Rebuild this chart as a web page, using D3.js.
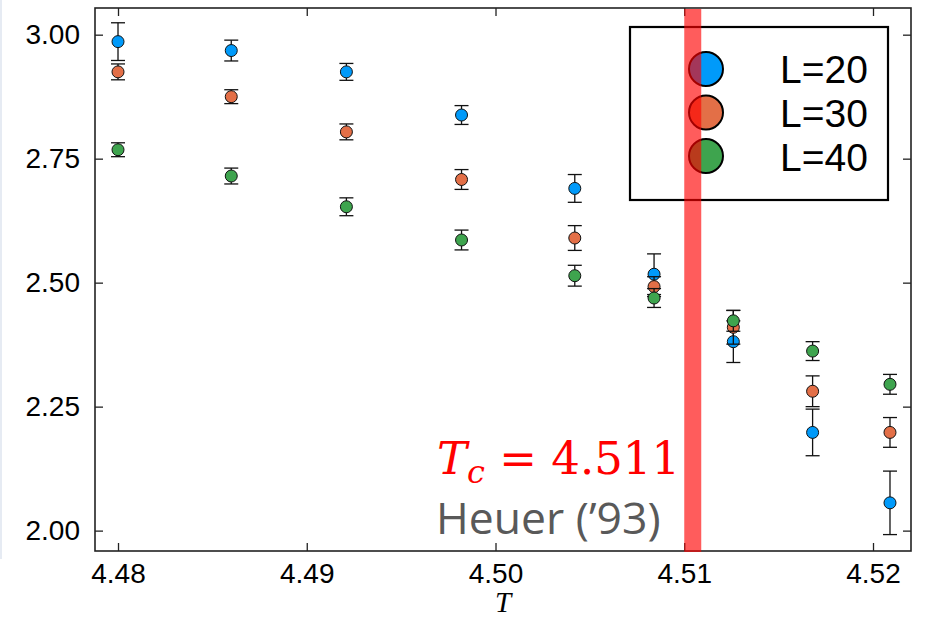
<!DOCTYPE html>
<html>
  <head>
    <meta charset="utf-8" />
    <title>Binder cumulant vs T</title>
    <script src="https://d3js.org/d3.v7.min.js"></script>
    <style>
      body { margin: 0; background: #fff; }
      .tick text { font-family: 'Liberation Sans', Arial, sans-serif; font-size: 28px; fill: #000; }
      .tick line { stroke: #222; stroke-width: 1.3; }
    </style>
  </head>
  <body>
    <script>
      // temperatures (x) and the three system sizes
      const temps = [4.4800, 4.4860, 4.4921, 4.4982, 4.5042, 4.5084, 4.5126, 4.5168, 4.5209];
      const sizes = ['L=20', 'L=30', 'L=40'];
      const colors = ['#009AFA', '#E36F47', '#3EA44E'];

      const mean20 = [2.986, 2.968, 2.925, 2.838, 2.690, 2.517, 2.381, 2.198, 2.056];
      const err20 = [0.038, 0.021, 0.017, 0.019, 0.028, 0.041, 0.042, 0.047, 0.064];
      const mean30 = [2.925, 2.875, 2.804, 2.708, 2.590, 2.492, 2.410, 2.281, 2.198];
      const err30 = [0.016, 0.014, 0.016, 0.020, 0.025, 0.020, 0.034, 0.031, 0.030];
      const mean40 = [2.768, 2.715, 2.653, 2.586, 2.514, 2.469, 2.423, 2.362, 2.295];
      const err40 = [0.014, 0.016, 0.018, 0.020, 0.021, 0.019, 0.021, 0.019, 0.020];

      const xTicks = [4.48, 4.49, 4.5, 4.51, 4.52];
      const yTicks = [2.0, 2.25, 2.5, 2.75, 3.0];
      const tcBand = [4.51, 4.5109];

      const series = [
        { name: sizes[0], color: colors[0], mean: mean20, err: err20 },
        { name: sizes[1], color: colors[1], mean: mean30, err: err30 },
        { name: sizes[2], color: colors[2], mean: mean40, err: err40 },
      ];

      const W = 927, H = 620;
      const pL = 95, pR = 911, pT = 8, pB = 551;

      const svg = d3.select('body').append('svg').attr('width', W).attr('height', H);

      // light strip at the very left edge of the screenshot
      svg.append('rect').attr('x', 0).attr('y', 0).attr('width', 2).attr('height', 559).attr('fill', '#e6ebf3');

      const x = d3.scaleLinear().domain([4.478781, 4.522013]).range([pL, pR]);
      const y = d3.scaleLinear().domain([1.9589, 3.0538]).range([pB, pT]);

      // axes with inward ticks
      const fmt = d3.format('.2f');
      const gx = svg.append('g').attr('transform', 'translate(0,' + pB + ')')
        .call(d3.axisBottom(x).tickValues(xTicks).tickFormat(fmt).tickSize(-8).tickPadding(12));
      const gy = svg.append('g').attr('transform', 'translate(' + pL + ',0)')
        .call(d3.axisLeft(y).tickValues(yTicks).tickFormat(fmt).tickSize(-8).tickPadding(15));
      const gt = svg.append('g').attr('transform', 'translate(0,' + pT + ')')
        .call(d3.axisTop(x).tickValues(xTicks).tickFormat('').tickSize(-8));
      const gr = svg.append('g').attr('transform', 'translate(' + pR + ',0)')
        .call(d3.axisRight(y).tickValues(yTicks).tickFormat('').tickSize(-8));
      [gx, gy, gt, gr].forEach((g) => g.select('.domain').remove());

      svg.append('rect')
        .attr('x', pL).attr('y', pT)
        .attr('width', pR - pL).attr('height', pB - pT)
        .attr('fill', 'none').attr('stroke', '#222').attr('stroke-width', 1.6);

      // error bars + markers, series by series
      series.forEach((s) => {
        const g = svg.append('g');
        temps.forEach((t, i) => {
          const cx = x(t);
          const y0 = y(s.mean[i] - s.err[i]);
          const y1 = y(s.mean[i] + s.err[i]);
          g.append('line').attr('x1', cx).attr('x2', cx).attr('y1', y0).attr('y2', y1)
            .attr('stroke', '#111').attr('stroke-width', 1.3);
          [y0, y1].forEach((yy) => {
            g.append('line').attr('x1', cx - 7).attr('x2', cx + 7).attr('y1', yy).attr('y2', yy)
              .attr('stroke', '#111').attr('stroke-width', 1.3);
          });
        });
        g.selectAll('circle')
          .data(temps.map((t, i) => [t, s.mean[i]]))
          .join('circle')
          .attr('cx', (d) => x(d[0]))
          .attr('cy', (d) => y(d[1]))
          .attr('r', 6)
          .attr('fill', s.color)
          .attr('stroke', '#111')
          .attr('stroke-width', 1);
      });

      // legend
      const lg = svg.append('g').attr('transform', 'translate(630,27)');
      lg.append('rect').attr('width', 258).attr('height', 173)
        .attr('fill', '#fff').attr('stroke', '#000').attr('stroke-width', 2.2);
      series.forEach((s, i) => {
        lg.append('circle').attr('cx', 76).attr('cy', 42 + i * 43.5).attr('r', 17)
          .attr('fill', s.color).attr('stroke', '#000').attr('stroke-width', 2);
        lg.append('text').attr('x', 150).attr('y', 56 + i * 44)
          .style('font-family', "'Liberation Sans', Arial, sans-serif")
          .style('font-size', '39px')
          .text(s.name);
      });

      // transition temperature band
      svg.append('rect')
        .attr('x', x(tcBand[0])).attr('y', pT + 1)
        .attr('width', x(tcBand[1]) - x(tcBand[0]))
        .attr('height', pB - pT)
        .attr('fill', '#ff0000').attr('fill-opacity', 0.64);

      // annotation
      const tc = svg.append('text').attr('x', 437).attr('y', 474)
        .attr('fill', '#ff0000')
        .style('font-family', "'DejaVu Serif', serif")
        .style('font-size', '45px');
      tc.append('tspan').style('font-style', 'italic').text('T');
      tc.append('tspan').style('font-style', 'italic').style('font-size', '32px').attr('dy', 9).text('c');
      tc.append('tspan').attr('dy', -9).text(' = 4.511');

      svg.append('text').attr('x', 436).attr('y', 534)
        .attr('fill', '#595959')
        .style('font-family', "'Open Sans', sans-serif")
        .style('font-size', '44.5px')
        .text('Heuer (\u201993)');

      // axis title
      svg.append('text').attr('x', (pL + pR) / 2).attr('y', 612)
        .attr('text-anchor', 'middle')
        .style('font-family', "'Liberation Serif', serif")
        .style('font-style', 'italic')
        .style('font-size', '29px')
        .text('T');
    </script>
  </body>
</html>
